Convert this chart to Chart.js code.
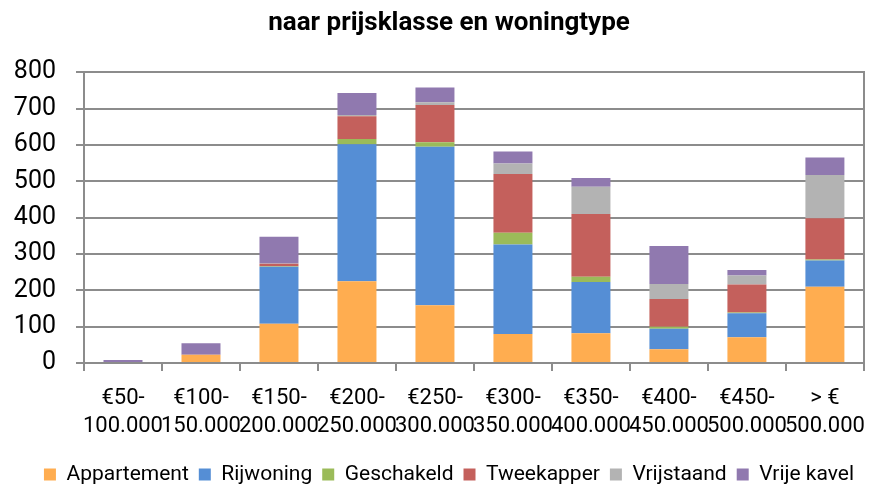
<!DOCTYPE html>
<html>
<head>
<meta charset="utf-8">
<script src="https://cdn.jsdelivr.net/npm/chart.js@4/dist/chart.umd.min.js"></script>
<style>
html,body{margin:0;padding:0;background:#fff;}
#wrap{width:879px;height:485px;position:relative;}
</style>
</head>
<body>
<div id="wrap"><canvas id="c" width="879" height="485"></canvas></div>
<script>
const categories = [
  ['€50-','100.000'],['€100-','150.000'],['€150-','200.000'],['€200-','250.000'],['€250-','300.000'],
  ['€300-','350.000'],['€350-','400.000'],['€400-','450.000'],['€450-','500.000'],['> €','500.000']
];
const appartement = [0, 23, 108, 225, 159, 80, 82, 38, 71, 210];
const rijwoning   = [0, 0, 157, 377, 436, 246, 141, 56, 66, 72];
const geschakeld  = [0, 0, 1, 14, 12, 32, 14, 6, 2, 3];
const tweekapper  = [0, 0, 7, 63, 103, 162, 173, 76, 77, 113];
const vrijstaand  = [0, 0, 1, 3, 7, 29, 75, 41, 25, 119];
const vrijeKavel  = [8, 31, 73, 61, 41, 33, 24, 105, 15, 48];

const seriesNames = ['Appartement','Rijwoning','Geschakeld','Tweekapper','Vrijstaand','Vrije kavel'];
const seriesData = [appartement, rijwoning, geschakeld, tweekapper, vrijstaand, vrijeKavel];
const seriesColors = ['#FFAD50','#558ED5','#9BBB59','#C4605C','#B3B3B3','#9079AF'];

const FONT = 'Roboto';
const gridColor = '#8c8c8c';

new Chart(document.getElementById('c'), {
  type: 'bar',
  data: {
    labels: categories,
    datasets: seriesNames.map((n, i) => ({
      label: n,
      data: seriesData[i],
      backgroundColor: seriesColors[i],
      borderWidth: 0,
      categoryPercentage: 1.0,
      barPercentage: 0.5
    }))
  },
  options: {
    responsive: false,
    animation: false,
    layout: { padding: { left: 4, right: -15, top: 0, bottom: -10 } },
    plugins: {
      title: {
        display: true,
        text: 'naar prijsklasse en woningtype',
        color: '#000',
        font: { family: FONT, size: 26, weight: 'bold' },
        padding: { top: 8, bottom: 33 }
      },
      legend: {
        position: 'bottom',
        labels: {
          color: '#000',
          font: { family: FONT, size: 21 },
          boxWidth: 12,
          boxHeight: 12,
          padding: 10
        }
      },
      tooltip: { enabled: false }
    },
    scales: {
      x: {
        stacked: true,
        grid: { display: true, drawOnChartArea: false, drawTicks: true, tickLength: 8, color: gridColor, lineWidth: 2, offset: true },
        border: { display: true, color: gridColor, width: 2 },
        ticks: { color: '#000', font: { family: FONT, size: 22, lineHeight: 1.25 }, maxRotation: 0, autoSkip: false, padding: 14 }
      },
      y: {
        stacked: true,
        min: 0, max: 800,
        afterFit: (scale) => { scale.width = 80; },
        grid: { color: gridColor, lineWidth: 2, tickLength: 8, drawTicks: true },
        border: { display: true, color: gridColor, width: 2 },
        ticks: { stepSize: 100, color: '#000', font: { family: FONT, size: 25 }, padding: 20 }
      },
      yRight: {
        position: 'right',
        min: 0, max: 800,
        afterFit: (scale) => { scale.width = 17; },
        grid: { drawOnChartArea: false, drawTicks: false },
        border: { display: true, color: gridColor, width: 2 },
        ticks: { display: false }
      }
    }
  }
});
</script>
</body>
</html>
